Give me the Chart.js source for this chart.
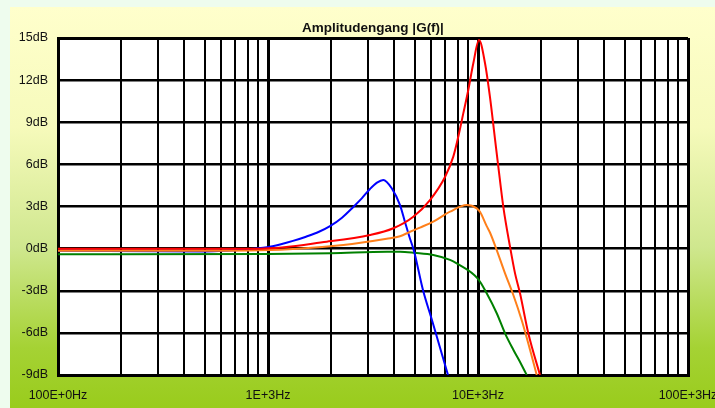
<!DOCTYPE html>
<html>
<head>
<meta charset="utf-8">
<script src="https://cdn.jsdelivr.net/npm/chart.js@4/dist/chart.umd.min.js"></script>
<style>
  html, body { margin: 0; padding: 0; background: #eefcee; }
  canvas { display: block; }
</style>
</head>
<body>
<canvas id="chart" width="715" height="408"></canvas>
<script>
// Frequenzen in Hz, Pegel in dB
const redFreq = [100, 500, 916, 1904, 3060, 3952, 4920, 5906, 6964, 7627, 8055, 8510, 8990, 9500, 10110, 10800, 11400, 12050, 12495, 13200, 14205, 15010, 15850, 17360, 19730];
const redDb   = [0.0, 0.0, 0.0, 0.49, 0.97, 1.45, 2.27, 3.46, 5.1, 6.55, 7.97, 9.63, 11.3, 13.2, 14.85, 13.2, 10.8, 7.8, 5.84, 2.98, 0.14, -1.76, -3.18, -6.03, -9.0];

const orangeFreq = [100, 500, 916, 2284, 3674, 4253, 4746, 5295, 6124, 7356, 8833, 9860, 10220, 11000, 11400, 12280, 13450, 14730, 16150, 17690, 19040];
const orangeDb   = [-0.15, -0.15, -0.12, 0.26, 0.7, 0.88, 1.2, 1.5, 1.92, 2.63, 3.1, 2.87, 2.62, 1.6, 1.15, -0.1, -1.76, -3.3, -5.1, -7.2, -9.0];

const blueFreq = [100, 500, 800, 989, 1141, 1315, 1517, 1749, 1974, 2251, 2541, 2803, 3060, 3304, 3540, 3883, 4253, 4490, 4746, 4920, 5012, 5470, 6040, 7197];
const blueDb   = [-0.15, -0.2, -0.05, 0.1, 0.3, 0.55, 0.85, 1.2, 1.6, 2.2, 2.95, 3.6, 4.25, 4.7, 4.89, 4.3, 3.1, 1.9, 0.7, 0.0, -0.45, -2.95, -5.1, -9.0];

const greenFreq = [100, 1000, 2000, 3688, 4253, 5000, 6124, 7356, 7919, 10000, 11000, 12280, 13450, 14730, 16150, 17060];
const greenDb   = [-0.4, -0.38, -0.33, -0.22, -0.22, -0.3, -0.45, -0.8, -1.05, -2.15, -3.18, -4.6, -6.03, -7.2, -8.3, -9.0];

const xTickValues = [100, 1000, 10000, 100000];
const xTickLabels = ['100E+0Hz', '1E+3Hz', '10E+3Hz', '100E+3Hz'];
const xGridValues = [100, 200, 300, 400, 500, 600, 700, 800, 900,
                     1000, 2000, 3000, 4000, 5000, 6000, 7000, 8000, 9000,
                     10000, 20000, 30000, 40000, 50000, 60000, 70000, 80000, 90000, 100000];
const yTicks = [-9, -6, -3, 0, 3, 6, 9, 12, 15];
const yTickLabels = ['-9dB', '-6dB', '-3dB', '0dB', '3dB', '6dB', '9dB', '12dB', '15dB'];

const toPoints = (fs, ds) => fs.map((f, i) => ({ x: f, y: ds[i] }));

const line = (label, color, fs, ds) => ({
  label,
  data: toPoints(fs, ds),
  borderColor: color,
  borderWidth: 2,
  pointRadius: 0,
  cubicInterpolationMode: 'monotone',
  clip: 0
});

// Hintergrund: Verlauf gelb -> gruen, Diagrammfläche weiß
const backdrop = {
  id: 'backdrop',
  beforeDraw(chart) {
    const { ctx, chartArea: a, width, height } = chart;
    ctx.save();
    ctx.fillStyle = '#eefcee';
    ctx.fillRect(0, 0, width, height);
    const g = ctx.createLinearGradient(0, 7, 0, height);
    g.addColorStop(0, '#ffffcc');
    g.addColorStop(0.3, '#f6fabb');
    g.addColorStop(0.6, '#cfe78e');
    g.addColorStop(0.85, '#a5d234');
    g.addColorStop(1, '#99cc1c');
    ctx.fillStyle = g;
    ctx.fillRect(10, 7, width - 10, height - 7);
    ctx.fillStyle = '#ffffff';
    ctx.fillRect(a.left, a.top, a.right - a.left, a.bottom - a.top);
    ctx.restore();
  }
};

const isDecade = v => xTickValues.includes(v);
const labelFont = { family: 'Liberation Sans, Arial, sans-serif', size: 12.5 };

new Chart(document.getElementById('chart'), {
  type: 'line',
  data: {
    datasets: [
      line('rot', '#ff0000', redFreq, redDb),
      line('orange', '#ff7f1a', orangeFreq, orangeDb),
      line('blau', '#0000ff', blueFreq, blueDb),
      line('grün', '#008000', greenFreq, greenDb)
    ]
  },
  options: {
    responsive: false,
    animation: false,
    layout: { padding: { left: 0, right: 27, top: 0, bottom: 0 } },
    plugins: {
      legend: { display: false },
      tooltip: { enabled: false },
      title: {
        display: true,
        text: 'Amplitudengang |G(f)|',
        fullSize: false,
        color: '#111',
        font: { family: 'Liberation Sans, Arial, sans-serif', size: 13.5, weight: 'bold', lineHeight: 1.2 },
        padding: { top: 19.8, bottom: 2 }
      }
    },
    scales: {
      x: {
        type: 'logarithmic',
        min: 100,
        max: 100000,
        afterBuildTicks(scale) {
          scale.ticks = xGridValues.map(v => ({ value: v }));
        },
        afterFit(scale) {
          scale.height = 33;
          scale.paddingLeft = 0;
          scale.paddingRight = 0;
        },
        grid: {
          color: '#000',
          lineWidth: c => (c.tick && isDecade(c.tick.value) ? 3 : 2),
          drawTicks: false
        },
        border: { display: true, color: '#000', width: 3 },
        ticks: {
          autoSkip: false,
          maxRotation: 0,
          padding: 13,
          color: '#111',
          font: labelFont,
          callback: v => {
            const i = xTickValues.indexOf(v);
            return i >= 0 ? xTickLabels[i] : '';
          }
        }
      },
      y: {
        min: -9,
        max: 15,
        afterBuildTicks(scale) {
          scale.ticks = yTicks.map(v => ({ value: v }));
        },
        afterFit(scale) {
          scale.width = 58;
        },
        grid: {
          color: '#000',
          lineWidth: c => (c.tick && c.tick.value === 15 ? 3 : 2.5),
          drawTicks: false
        },
        border: { display: true, color: '#000', width: 3 },
        ticks: {
          padding: 10,
          color: '#111',
          font: labelFont,
          callback: v => yTickLabels[yTicks.indexOf(v)]
        }
      }
    }
  },
  plugins: [backdrop]
});
</script>
</body>
</html>
